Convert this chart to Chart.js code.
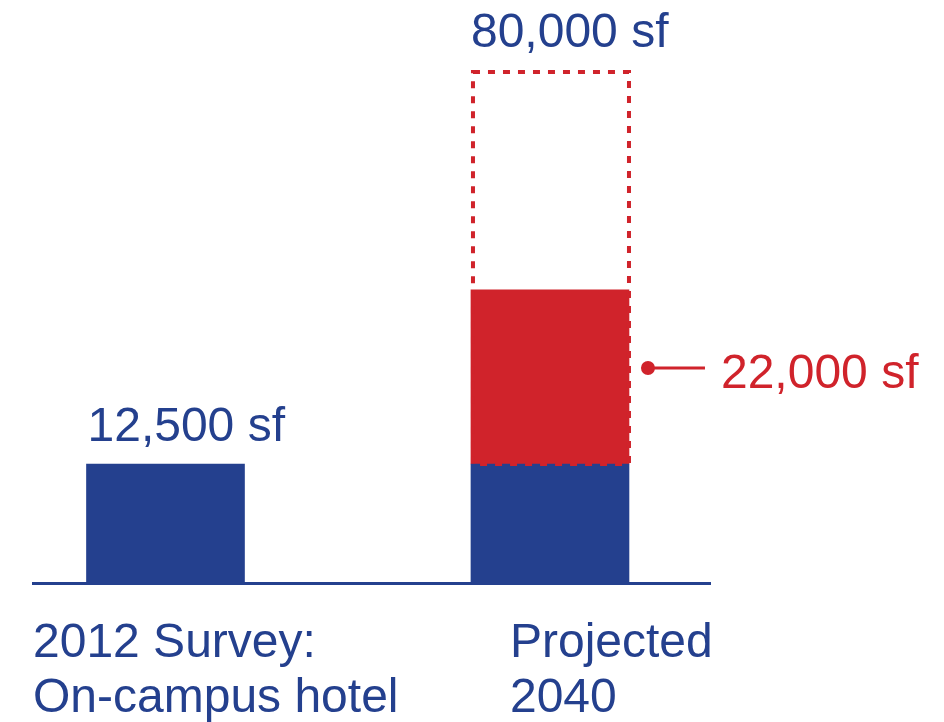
<!DOCTYPE html>
<html>
<head>
<meta charset="utf-8">
<title>Hotel space</title>
<script src="https://cdn.jsdelivr.net/npm/chart.js@4"></script>
<style>
  html, body { margin: 0; padding: 0; background: #fff; }
  #wrap { width: 944px; height: 722px; }
</style>
</head>
<body>
<div id="wrap"><canvas id="hotel"></canvas></div>
<script>
const categories = [['2012 Survey:', 'On-campus hotel'], ['Projected', '2040']];
const existingSf = [12500, 12500];
const addedSf = [null, 18300];
const projectedSf = [null, 53700];
const existingText = ['12,500 sf', null];
const addedText = [null, '22,000 sf'];
const projectedText = [null, '80,000 sf'];

const BLUE = '#24408e';
const RED = '#d0232b';
const FONT = '48px "Liberation Sans", Arial, sans-serif';

const blueData = existingSf.map((v, i) => ({ x: i, y: [0, v] }));
const redData = addedSf.map((v, i) => ({ x: i, y: v == null ? null : [existingSf[i], existingSf[i] + v] }));
const outlineData = projectedSf.map((v, i) => ({ x: i, y: v == null ? null : [existingSf[i], v] }));

const annotate = {
  id: 'annotate',
  afterDatasetsDraw(chart) {
    const ctx = chart.ctx;
    const blue = chart.getDatasetMeta(0).data;
    const red = chart.getDatasetMeta(1).data;
    const outline = chart.getDatasetMeta(2).data;
    ctx.save();
    ctx.font = FONT;
    ctx.textAlign = 'left';
    ctx.textBaseline = 'alphabetic';

    // dotted projection box
    outline.forEach((bar, i) => {
      if (projectedSf[i] == null) return;
      const { x, y, base, width } = bar.getProps(['x', 'y', 'base', 'width'], true);
      ctx.setLineDash([7, 8]);
      ctx.lineWidth = 4;
      ctx.strokeStyle = RED;
      ctx.strokeRect(x - width / 2 + 2, y, width - 2, base - y);
      ctx.setLineDash([]);
      ctx.fillStyle = BLUE;
      ctx.fillText(projectedText[i], x - width / 2, y - 25);
    });

    blue.forEach((bar, i) => {
      if (!existingText[i]) return;
      const { x, y, width } = bar.getProps(['x', 'y', 'width'], true);
      ctx.fillStyle = BLUE;
      ctx.fillText(existingText[i], x - width / 2 + 1, y - 23);
    });

    // callout for the added space
    red.forEach((bar, i) => {
      if (!addedText[i]) return;
      const { x, y, base, width } = bar.getProps(['x', 'y', 'base', 'width'], true);
      const cy = (y + base) / 2 - 9;
      const x0 = x + width / 2 + 19;
      ctx.fillStyle = RED;
      ctx.strokeStyle = RED;
      ctx.lineWidth = 3;
      ctx.beginPath();
      ctx.arc(x0, cy, 7, 0, Math.PI * 2);
      ctx.fill();
      ctx.beginPath();
      ctx.moveTo(x0, cy);
      ctx.lineTo(x0 + 57, cy);
      ctx.stroke();
      ctx.fillText(addedText[i], x0 + 73, cy + 20);
    });

    // category labels, left aligned under the bars
    const xs = chart.scales.x;
    const shift = [-132.5, -40];
    ctx.fillStyle = BLUE;
    categories.forEach((lines, i) => {
      const lx = xs.getPixelForValue(i) + shift[i];
      lines.forEach((t, k) => {
        ctx.fillText(t, lx, chart.chartArea.bottom + 74 + k * 55);
      });
    });
    ctx.restore();
  }
};

const ctxHotel = document.getElementById('hotel');

const hotel = new Chart(ctxHotel, {
  type: 'bar',
  data: {
    datasets: [
      { label: 'Existing', data: blueData, backgroundColor: BLUE, grouped: false, barThickness: 158 },
      { label: 'Added', data: redData, backgroundColor: RED, grouped: false, barThickness: 158 },
      { label: 'Projected', data: outlineData, backgroundColor: 'rgba(0,0,0,0)', borderWidth: 0, grouped: false, barThickness: 158 }
    ]
  },
  plugins: [annotate],
  options: {
    responsive: true,
    maintainAspectRatio: false,
    animation: false,
    layout: { padding: { left: 33, right: 234, top: 12, bottom: 139 } },
    plugins: {
      legend: { display: false },
      tooltip: { enabled: false }
    },
    scales: {
      x: {
        type: 'linear',
        offset: false,
        min: -0.3446,
        max: 1.4162,
        grid: { display: false, drawTicks: false, offset: false },
        ticks: { display: false, stepSize: 1, includeBounds: false },
        border: { display: true, color: BLUE, width: 3 }
      },
      y: {
        display: false,
        min: 0,
        max: 60000
      }
    }
  }
});
</script>
</body>
</html>
